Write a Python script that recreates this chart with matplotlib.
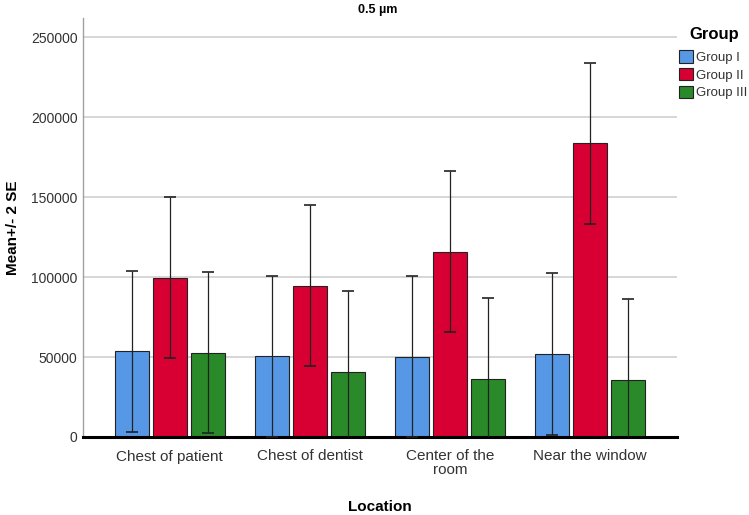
import matplotlib
matplotlib.use("Agg")
import matplotlib.pyplot as plt
import numpy as np

plt.rcParams['font.family'] = ['Liberation Sans', 'DejaVu Sans']

locations = ["Chest of patient", "Chest of dentist", "Center of the\nroom", "Near the window"]
groups = ["Group I", "Group II", "Group III"]
means = {
    "Group I":   [53700, 50600, 50200, 51900],
    "Group II":  [99700, 94700, 115900, 183800],
    "Group III": [52700, 40400, 36300, 35600],
}
err2se = {
    "Group I":   [50300, 50300, 50200, 50400],
    "Group II":  [50300, 50300, 50300, 50300],
    "Group III": [50400, 50600, 50400, 50400],
}
colors = {"Group I": "#5698e6", "Group II": "#d80032", "Group III": "#2a8a2a"}

fig = plt.figure(figsize=(7.49, 5.15), dpi=100)
ax = fig.add_axes([83/749, 1-437/515, (677-83)/749, (437-18)/515])

x = np.arange(len(locations))
width = 0.243
offs = [-0.271, 0.0, 0.271]
for g, o in zip(groups, offs):
    ax.bar(x + o, means[g], width=width, color=colors[g], edgecolor="#222222",
           linewidth=0.8, label=g, zorder=2)
    ax.errorbar(x + o, means[g], yerr=err2se[g], fmt='none', ecolor="#222222",
                elinewidth=0.9, capsize=4, capthick=1.2, zorder=3)

ax.set_xlim(-0.62, 3.62)
ax.set_ylim(0, 262000)
ax.set_yticks([0, 50000, 100000, 150000, 200000, 250000])
ax.set_yticklabels(["0", "50000", "100000", "150000", "200000", "250000"], fontsize=10, color="#333333")
ax.set_xticks(x)
ax.set_xticklabels(locations, fontsize=11, color="#333333", linespacing=1.0)
ax.tick_params(axis='x', length=0, pad=9)
ax.tick_params(axis='y', length=0, pad=4)
ax.yaxis.grid(True, color="#d0d0d0", linewidth=1.2, zorder=0)
ax.set_axisbelow(True)
for s in ["top", "right"]:
    ax.spines[s].set_visible(False)
ax.spines["left"].set_color("#a0a0a0")
ax.spines["left"].set_linewidth(1.0)
ax.spines["bottom"].set_color("black")
ax.spines["bottom"].set_linewidth(2.2)

ax.set_ylabel("Mean+/- 2 SE", fontsize=11, fontweight='bold', labelpad=8)
ax.set_xlabel("Location", fontsize=11, fontweight='bold', labelpad=16)
fig.text(378/749, 1-10/515, "0.5 µm", fontsize=9, fontweight='bold', ha='center', va='center')

fig.text(689/749, 1-34/515, "Group", fontsize=12, fontweight='bold', ha='left', va='center')
leg = ax.legend(loc='upper left', bbox_to_anchor=((679-83)/594, (437-50)/419), frameon=False,
                fontsize=9.5, handlelength=1.05, handleheight=1.1, handletextpad=0.25,
                labelspacing=0.3, borderaxespad=0, borderpad=0)
for t in leg.get_texts():
    t.set_color("#333333")
for h in leg.legend_handles:
    h.set_edgecolor("#222222")

fig.savefig("out.png", dpi=100)
